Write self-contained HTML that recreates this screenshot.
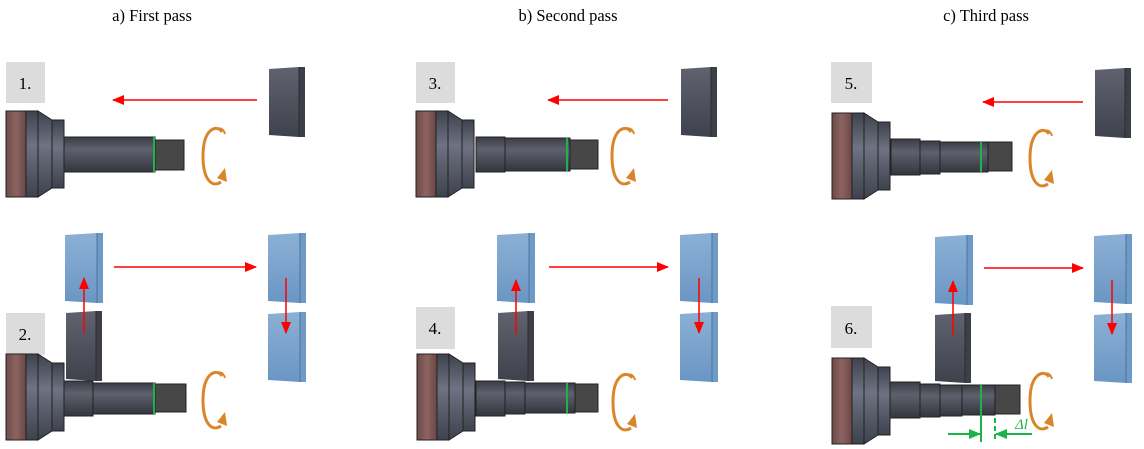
<!DOCTYPE html>
<html><head><meta charset="utf-8"><style>
body{margin:0;background:#fff}
svg{display:block}
text{font-family:"Liberation Serif",serif}
</style></head><body>
<svg width="1144" height="449" viewBox="0 0 1144 449" xmlns="http://www.w3.org/2000/svg">
<defs>
<linearGradient id="gv" x1="0" y1="0" x2="0" y2="1"><stop offset="0" stop-color="#3e424d"/><stop offset="0.4" stop-color="#6e7282"/><stop offset="1" stop-color="#3e424d"/></linearGradient>
<linearGradient id="gsh" x1="0" y1="0" x2="0" y2="1"><stop offset="0" stop-color="#3a3d46"/><stop offset="0.35" stop-color="#5e616d"/><stop offset="1" stop-color="#33363e"/></linearGradient>
<linearGradient id="gbr" x1="0" y1="0" x2="1" y2="0"><stop offset="0" stop-color="#6e4a48"/><stop offset="0.5" stop-color="#8c6462"/><stop offset="1" stop-color="#6a4644"/></linearGradient>
<linearGradient id="gtool" x1="0" y1="0" x2="0" y2="1"><stop offset="0" stop-color="#60636f"/><stop offset="1" stop-color="#3f424c"/></linearGradient>
<linearGradient id="gblue" x1="0" y1="0" x2="0" y2="1"><stop offset="0" stop-color="#8cb0d4"/><stop offset="1" stop-color="#6a96c4"/></linearGradient>
<marker id="ahb" markerWidth="12" markerHeight="10" refX="11" refY="5" orient="auto" markerUnits="userSpaceOnUse"><path d="M0,0 L12,5 L0,10 z" fill="#f00"/></marker>
<marker id="ahg" markerWidth="12" markerHeight="10" refX="11" refY="5" orient="auto" markerUnits="userSpaceOnUse"><path d="M0,0 L12,5 L0,10 z" fill="#1db34a"/></marker>
<g id="chuck">
<rect x="0" y="0" width="20" height="86" fill="url(#gbr)" stroke="#222" stroke-width="1"/>
<rect x="20" y="0" width="12" height="86" fill="url(#gv)" stroke="#222" stroke-width="1"/>
<path d="M32 0 L46 9 L46 77 L32 86 Z" fill="url(#gv)" stroke="#222" stroke-width="1"/>
<rect x="46" y="9" width="12" height="68" fill="url(#gv)" stroke="#222" stroke-width="1"/>
</g>
<g id="rot" fill="none">
<path d="M19 6 C14 -2 0 2 0 30 C0 54 9 62 18 56" stroke="#d9862a" stroke-width="3"/>
<path d="M14 3 C18 1 21 4 22 8" stroke="#d9862a" stroke-width="2"/>
<path d="M14 52 L22 42 L24 56 Z" fill="#d9862a"/>
</g>
<g id="tool">
<path d="M0 2 L30 0 L30 70 L0 68 Z" fill="url(#gtool)"/>
<rect x="30" y="0" width="6" height="70" fill="#3c3f48"/>
<line x1="30" y1="0" x2="30" y2="70" stroke="#2a2c33"/>
</g>
<g id="btool">
<path d="M0 2 L32 0 L32 70 L0 68 Z" fill="url(#gblue)"/>
<rect x="32" y="0" width="6" height="70" fill="#6f9ac6"/>
<line x1="32" y1="0" x2="32" y2="70" stroke="#4a74a0"/>
</g>
</defs>

<text x="152" y="21" font-size="16.5" text-anchor="middle">a) First pass</text>
<text x="568" y="21" font-size="16.5" text-anchor="middle">b) Second pass</text>
<text x="986" y="21" font-size="16.5" text-anchor="middle">c) Third pass</text>

<g font-size="17">
<rect x="6" y="62" width="39" height="41" fill="#dcdcdc"/><text x="25" y="89" text-anchor="middle">1.</text>
<rect x="6" y="313" width="39" height="42" fill="#dcdcdc"/><text x="25" y="340" text-anchor="middle">2.</text>
<rect x="416" y="62" width="39" height="41" fill="#dcdcdc"/><text x="435" y="89" text-anchor="middle">3.</text>
<rect x="416" y="307" width="39" height="42" fill="#dcdcdc"/><text x="435" y="334" text-anchor="middle">4.</text>
<rect x="831" y="62" width="41" height="41" fill="#dcdcdc"/><text x="851" y="89" text-anchor="middle">5.</text>
<rect x="831" y="306" width="41" height="42" fill="#dcdcdc"/><text x="851" y="334" text-anchor="middle">6.</text>
</g>

<!-- Panel 1 top -->
<rect x="64" y="137" width="91" height="35" fill="url(#gsh)" stroke="#222"/>
<rect x="155" y="140" width="29" height="30" fill="#474747" stroke="#222"/>
<line x1="154" y1="137" x2="154" y2="172" stroke="#1db34a" stroke-width="2"/>
<use href="#chuck" x="6" y="111"/>
<use href="#rot" x="203" y="126"/>
<use href="#tool" x="269" y="67"/>
<line x1="257" y1="100" x2="113" y2="100" stroke="#f00" stroke-width="1.5" marker-end="url(#ahb)"/>

<!-- Panel 1 bottom -->
<rect x="64" y="381" width="29" height="35" fill="url(#gsh)" stroke="#222"/>
<rect x="93" y="383" width="62" height="31" fill="url(#gsh)" stroke="#222"/>
<rect x="155" y="384" width="31" height="28" fill="#474747" stroke="#222"/>
<line x1="154" y1="383" x2="154" y2="414" stroke="#1db34a" stroke-width="2"/>
<use href="#chuck" x="6" y="354"/>
<use href="#rot" x="203" y="370"/>
<use href="#btool" x="65" y="233"/>
<use href="#tool" x="66" y="311"/>
<use href="#btool" x="268" y="233"/>
<use href="#btool" x="268" y="312"/>
<line x1="84" y1="333" x2="84" y2="278" stroke="#f00" stroke-width="1.5" marker-end="url(#ahb)"/>
<line x1="114" y1="267" x2="256" y2="267" stroke="#f00" stroke-width="1.5" marker-end="url(#ahb)"/>
<line x1="286" y1="278" x2="286" y2="333" stroke="#f00" stroke-width="1.5" marker-end="url(#ahb)"/>

<!-- Panel 2 top -->
<rect x="476" y="137" width="29" height="35" fill="url(#gsh)" stroke="#222"/>
<rect x="505" y="138" width="65" height="33" fill="url(#gsh)" stroke="#222"/>
<rect x="570" y="140" width="28" height="29" fill="#474747" stroke="#222"/>
<line x1="567" y1="138" x2="567" y2="171" stroke="#1db34a" stroke-width="2"/>
<use href="#chuck" x="416" y="111"/>
<use href="#rot" x="612" y="126"/>
<use href="#tool" x="681" y="67"/>
<line x1="668" y1="100" x2="548" y2="100" stroke="#f00" stroke-width="1.5" marker-end="url(#ahb)"/>

<!-- Panel 2 bottom -->
<rect x="476" y="381" width="29" height="35" fill="url(#gsh)" stroke="#222"/>
<rect x="505" y="382" width="20" height="32" fill="url(#gsh)" stroke="#222"/>
<rect x="525" y="383" width="50" height="30" fill="url(#gsh)" stroke="#222"/>
<rect x="575" y="384" width="23" height="28" fill="#474747" stroke="#222"/>
<line x1="567" y1="383" x2="567" y2="413" stroke="#1db34a" stroke-width="2"/>
<use href="#chuck" x="417" y="354"/>
<use href="#rot" x="613" y="372"/>
<use href="#btool" x="497" y="233"/>
<use href="#tool" x="498" y="311"/>
<use href="#btool" x="680" y="233"/>
<use href="#btool" x="680" y="312"/>
<line x1="516" y1="334" x2="516" y2="280" stroke="#f00" stroke-width="1.5" marker-end="url(#ahb)"/>
<line x1="549" y1="267" x2="668" y2="267" stroke="#f00" stroke-width="1.5" marker-end="url(#ahb)"/>
<line x1="699" y1="278" x2="699" y2="333" stroke="#f00" stroke-width="1.5" marker-end="url(#ahb)"/>

<!-- Panel 3 top -->
<rect x="891" y="139" width="29" height="36" fill="url(#gsh)" stroke="#222"/>
<rect x="920" y="141" width="20" height="33" fill="url(#gsh)" stroke="#222"/>
<rect x="940" y="142" width="48" height="30" fill="url(#gsh)" stroke="#222"/>
<rect x="988" y="142" width="24" height="29" fill="#474747" stroke="#222"/>
<line x1="981" y1="142" x2="981" y2="172" stroke="#1db34a" stroke-width="2"/>
<use href="#chuck" x="832" y="113"/>
<use href="#rot" x="1030" y="128"/>
<use href="#tool" x="1095" y="68"/>
<line x1="1083" y1="102" x2="983" y2="102" stroke="#f00" stroke-width="1.5" marker-end="url(#ahb)"/>

<!-- Panel 3 bottom -->
<rect x="890" y="382" width="30" height="36" fill="url(#gsh)" stroke="#222"/>
<rect x="920" y="384" width="20" height="33" fill="url(#gsh)" stroke="#222"/>
<rect x="940" y="385" width="22" height="31" fill="url(#gsh)" stroke="#222"/>
<rect x="962" y="385" width="33" height="30" fill="url(#gsh)" stroke="#222"/>
<rect x="995" y="385" width="25" height="29" fill="#474747" stroke="#222"/>
<use href="#chuck" x="832" y="358"/>
<use href="#rot" x="1030" y="371"/>
<use href="#btool" x="935" y="235"/>
<use href="#tool" x="935" y="313"/>
<use href="#btool" x="1094" y="234"/>
<use href="#btool" x="1094" y="313"/>
<line x1="953" y1="335" x2="953" y2="281" stroke="#f00" stroke-width="1.5" marker-end="url(#ahb)"/>
<line x1="984" y1="268" x2="1083" y2="268" stroke="#f00" stroke-width="1.5" marker-end="url(#ahb)"/>
<line x1="1112" y1="280" x2="1112" y2="334" stroke="#f00" stroke-width="1.5" marker-end="url(#ahb)"/>
<line x1="981" y1="385" x2="981" y2="442" stroke="#1db34a" stroke-width="2"/>
<line x1="995" y1="418" x2="995" y2="442" stroke="#1db34a" stroke-width="2" stroke-dasharray="5,3"/>
<line x1="948" y1="434" x2="980" y2="434" stroke="#1db34a" stroke-width="2" marker-end="url(#ahg)"/>
<line x1="1032" y1="434" x2="996" y2="434" stroke="#1db34a" stroke-width="2" marker-end="url(#ahg)"/>
<text x="1015" y="429" font-size="15" font-style="italic" fill="#1db34a">Δl</text>
</svg>
</body></html>
